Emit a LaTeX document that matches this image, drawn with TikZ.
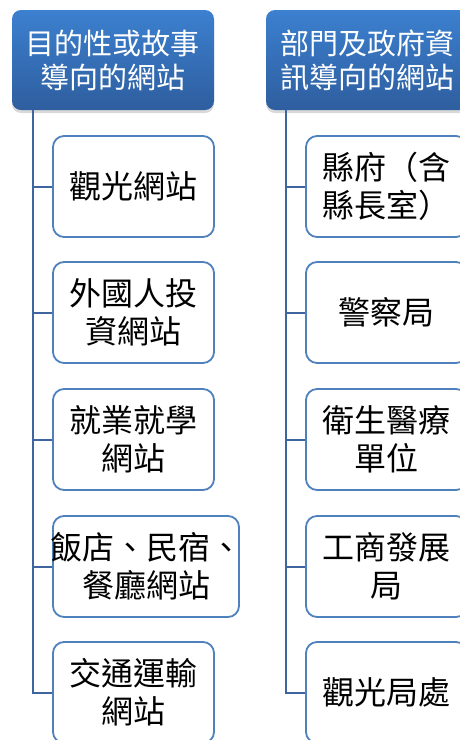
\documentclass[tikz,border=0pt]{standalone}
\usepackage{fontspec}
\newfontfamily\cjk{Noto Sans CJK TC}
\usepackage{tikz}
\usetikzlibrary{shapes}
\usetikzlibrary{shadows}
\definecolor{headtop}{RGB}{60,128,208}
\definecolor{headbot}{RGB}{46,94,158}
\definecolor{leafline}{RGB}{79,129,189}
\definecolor{trunkline}{RGB}{62,101,160}
\tikzstyle{head}=[
        rectangle,
        rounded corners=9pt,
        top color=headtop,
        bottom color=headbot,
        minimum width=202pt,
        minimum height=100pt,
        inner sep=0pt,
        align=center,
        text=white,
        font=\cjk\fontsize{29}{34}\selectfont,
        drop shadow={opacity=0.3,shadow xshift=0pt,shadow yshift=-3pt}
]
\tikzstyle{leaf}=[rectangle,draw=leafline,line width=1.8pt,fill=white,
rounded corners=11pt,minimum width=161pt,minimum height=101pt,inner sep=0pt,
align=center,font=\cjk\fontsize{32}{38}\selectfont]
\tikzstyle{branch}=[draw=trunkline,line width=2pt]

\begin{document}
\begin{tikzpicture}[x=1pt,y=-1pt]
\useasboundingbox (0,0) rectangle (460,740);
\clip (0,0) rectangle (460,740);
\node[head] (h1) at (113,60) {目的性或故事\\導向的網站};
\node[head] (h2) at (367,60) {部門及政府資\\訊導向的網站};
\node[leaf] (a1) at (133.5,186.5) {觀光網站};
\node[leaf] (a2) at (133.5,312.5) {外國人投\\資網站};
\node[leaf] (a3) at (133.5,439.5) {就業就學\\網站};
\node[leaf,minimum width=186pt] (a4) at (146,566.5) {\makebox[0pt]{飯店、民宿、}\\餐廳網站};
\node[leaf] (a5) at (133.5,692.5) {交通運輸\\網站};
\node[leaf] (b1) at (386.5,186.5) {縣府（含\\縣長室）};
\node[leaf] (b2) at (386.5,312.5) {警察局};
\node[leaf] (b3) at (386.5,439.5) {衛生醫療\\單位};
\node[leaf] (b4) at (386.5,566.5) {工商發展\\局};
\node[leaf] (b5) at (386.5,692.5) {觀光局處};
\coordinate (ta) at (33,110);
\coordinate (tb) at (286,110);
%branches
\foreach \i in {1,...,5}{
  \draw[branch] (ta) |- (a\i.west);
  \draw[branch] (tb) |- (b\i.west);
}
\end{tikzpicture}
\end{document}
